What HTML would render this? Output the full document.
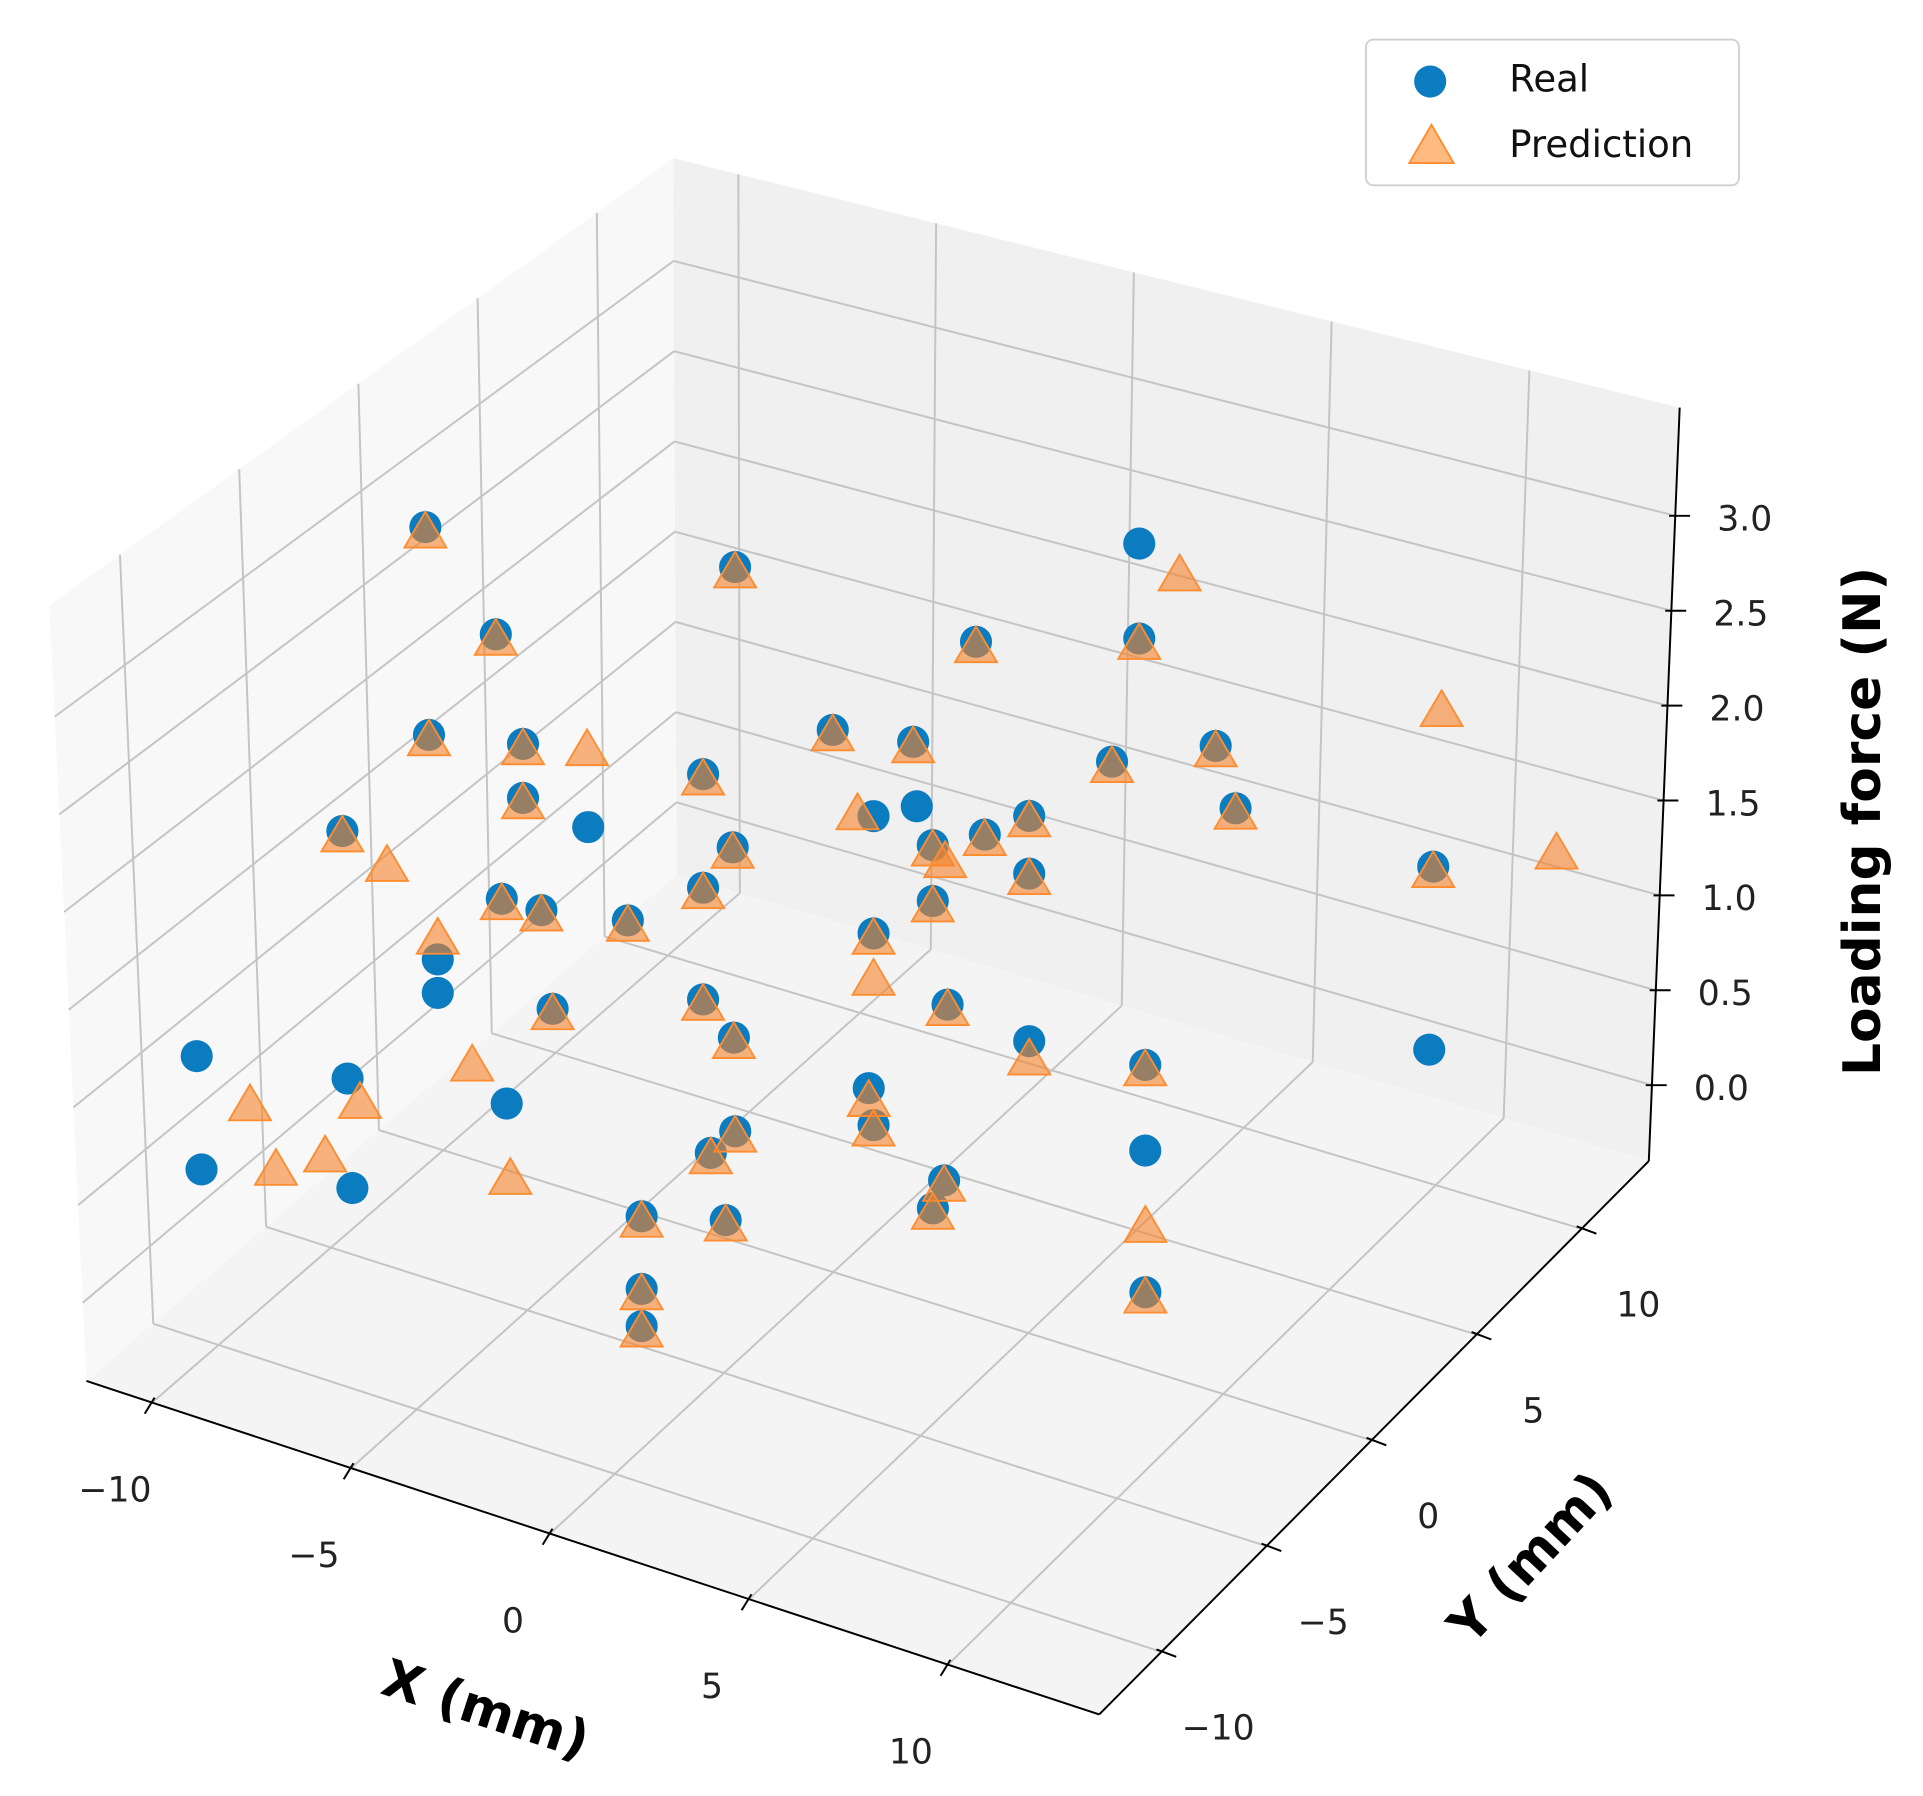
<!DOCTYPE html>
<html><head><meta charset="utf-8"><title>Loading force 3D scatter</title>
<style>
html,body{margin:0;padding:0;background:#fff;}
svg{display:block;font-family:"DejaVu Sans","Liberation Sans",sans-serif;}
</style></head>
<body>
<svg id="chart" xmlns="http://www.w3.org/2000/svg" width="1923" height="1796" viewBox="0 0 1557 1454" preserveAspectRatio="none">
<g id="panes">
  <polygon points="40,490 545,128 548,708 70,1118" fill="#f8f8f8"/>
  <polygon points="545,128 1360,330 1335,940 548,708" fill="#f0f0f0"/>
  <polygon points="70,1118 548,708 1335,940 890,1388" fill="#f4f4f4"/>
</g>
<g id="grid" stroke="#c4c4c4" stroke-width="1.6" fill="none"></g>
<g id="axes" stroke="#000" stroke-width="1.6" fill="none"></g>
<g id="ticklabels" font-size="28" fill="#222"></g>
<g id="real"></g>
<g id="pred"></g>
<text x="393" y="1398" font-size="42" font-weight="bold" text-anchor="middle" transform="rotate(18 393 1385)">X (mm)</text>
<text x="1240" y="1275" font-size="42" font-weight="bold" text-anchor="middle" transform="rotate(-47 1240 1262)">Y (mm)</text>
<text x="1508" y="679" font-size="42" font-weight="bold" text-anchor="middle" transform="rotate(-90 1508 665)">Loading force (N)</text>
<g>
  <rect x="1106" y="32" width="302" height="118" rx="6" fill="#fff" stroke="#d0d0d0" stroke-width="1.5"/>
  <circle cx="1158" cy="66" r="13" fill="#0b7cc0"/>
  <text x="1222" y="74" font-size="30" fill="#111">Real</text>
  <polygon points="1159,101 1141,132 1177,132" fill="#ff8c2e" fill-opacity="0.6" stroke="#ff8c2e" stroke-width="1.5"/>
  <text x="1222" y="127" font-size="30" fill="#111">Prediction</text>
</g>
</svg>
<script>
// ---- data ----
const realX = [-9.54,-1.80,8.30,-7.78,4.22,8.30,-9.45,-7.10,-7.10,-6.12,-2.60,0.64,2.65,7.62,10.21,7.96,12.90,12.80,-1.86,-2.60,-7.63,-6.64,-4.48,1.66,3.14,3.14,4.44,5.55,5.55,-6.36,-2.60,-1.83,3.51,5.55,8.45,1.54,1.66,0.95,0.34,6.17,5.89,0.26,2.36,0.26,0.26,11.20,8.45,2.74,1.66,-5.47,-9.23,-9.23,-9.76,-9.64,-5.87,-5.99,-4.76];
const realY = [0,0,0,0,0,0,0,0,0,-10,0,0,0,0,0,5,5,5,0,0,0,0,0,0,0,0,0,0,0,0,0,0,0,0,0,0,0,-5,-5,-5,-5,-8,-8,-8,-8,-5,0,0,0,0,0,0,-10,-10,-10,-10,-5];
const realZ = [2.89,3.23,4.08,2.44,3.26,3.57,1.78,1.90,1.61,2.69,2.06,2.53,2.61,2.86,3.13,2.04,2.08,1.09,1.72,1.45,1.03,1.04,1.14,1.51,2.09,1.79,2.24,2.42,2.11,0.53,0.85,0.70,1.26,1.21,1.29,0.67,0.48,0.99,0.83,1.10,0.93,0.84,0.97,0.45,0.25,0.86,0.83,2.27,2.14,1.57,0.59,0.41,1.22,0.62,0.79,1.37,0.73];

const predX = [-9.54,-1.80,-7.78,4.22,8.30,-9.45,-7.10,-7.10,-6.12,-2.60,0.64,2.65,7.62,10.21,7.96,12.90,-1.86,-2.60,-7.63,-6.64,-4.48,1.66,3.14,3.14,4.44,5.55,5.55,-6.36,-2.60,-1.83,3.51,5.55,8.45,1.54,1.66,0.95,0.34,6.17,5.89,0.26,2.36,0.26,0.26,11.20,9.31,13.11,15.98,-5.50,-10.50,-9.23,-8.37,-8.43,-7.78,-6.55,-5.68,-4.67,11.20,1.26,1.66,3.45];
const predY = [0,0,0,0,0,0,0,0,-10,0,0,0,0,0,5,5,0,0,0,0,0,0,0,0,0,0,0,0,0,0,0,0,0,0,0,-5,-5,-5,-5,-8,-8,-8,-8,-5,0,5,5,0,0,0,0,-10,-10,-10,-10,-5,-5,0,0,0];
const predZ = [2.86,3.20,2.41,3.23,3.54,1.75,1.87,1.58,2.66,2.03,2.50,2.58,2.83,3.10,2.01,2.05,1.69,1.42,1.00,1.01,1.11,1.48,2.06,1.76,2.21,2.39,2.08,0.50,0.82,0.67,1.23,1.11,1.26,0.60,0.45,0.96,0.80,1.07,0.90,0.81,0.94,0.42,0.22,0.83,3.98,2.93,2.37,1.98,1.00,0.70,0.08,1.05,0.75,0.91,1.26,0.33,1.21,2.12,1.26,2.02];

const xTicks = [-10,-5,0,5,10];
const yTicks = [-10,-5,0,5,10];
const zTicks = [0,0.5,1,1.5,2,2.5,3];
const xTickLabels = ["\u221210","\u22125","0","5","10"];
const yTickLabels = ["\u221210","\u22125","0","5","10"];
const zTickLabels = ["0.0","0.5","1.0","1.5","2.0","2.5","3.0"];

// ---- projection ----
const XMIN=-11.65, XMAX=13.8, YMIN=-12.96, YMAX=13.2, ZMIN=-0.4, ZMAX=3.57;
function proj(x,y,z){ return [653.5 + 32.4*x + 17.8*y, 965.3 + 10.8*x - 17.9*y - 150.7*z]; }
const A=[70,1118], B=[890,1388], C=[1335,940], D=[548,708], At=[40,490], Dt=[545,128], Ct=[1360,330];
function lerp(p,q,t){ return [p[0]+(q[0]-p[0])*t, p[1]+(q[1]-p[1])*t]; }
const fx = x => (x-XMIN)/(XMAX-XMIN), fy = y => (y-YMIN)/(YMAX-YMIN), fz = z => (z-ZMIN)/(ZMAX-ZMIN);
const NS="http://www.w3.org/2000/svg";
function line(g,p,q,name){
  const l=document.createElementNS(NS,'line');
  l.setAttribute('x1',p[0]);l.setAttribute('y1',p[1]);l.setAttribute('x2',q[0]);l.setAttribute('y2',q[1]);
  
  
  g.appendChild(l); return l;
}
function text(g,x,y,s,name,anchor){
  const t=document.createElementNS(NS,'text');
  t.setAttribute('x',x);t.setAttribute('y',y);t.setAttribute('text-anchor',anchor||'middle');t.textContent=s;
  
  
  g.appendChild(t);
}
const grid=document.getElementById('grid');
xTicks.forEach(x=>{ const t=fx(x);
  line(grid, lerp(A,B,t), lerp(D,C,t), 'floor-gridline-x');
  line(grid, lerp(D,C,t), lerp(Dt,Ct,t), 'wall-gridline-x'); });
yTicks.forEach(y=>{ const t=fy(y);
  line(grid, lerp(A,D,t), lerp(B,C,t), 'floor-gridline-y');
  line(grid, lerp(A,D,t), lerp(At,Dt,t), 'wall-gridline-y'); });
zTicks.forEach(z=>{ const t=fz(z);
  const l=lerp(A,At,t), m=lerp(D,Dt,t), r=lerp(C,Ct,t);
  line(grid, l, m, 'left-wall-gridline-z'); line(grid, m, r, 'back-wall-gridline-z'); });

const axes=document.getElementById('axes'), tl=document.getElementById('ticklabels');
line(axes,A,B,'x-axis-line'); line(axes,B,C,'y-axis-line'); line(axes,C,Ct,'z-axis-line');
xTicks.forEach((x,i)=>{ const p=lerp(A,B,fx(x));
  line(axes,[p[0]+2,p[1]-4],[p[0]-6,p[1]+9],'x-tick');
  text(tl,p[0]-30,p[1]+80,xTickLabels[i],'x-tick-label'); });
yTicks.forEach((y,i)=>{ const p=lerp(B,C,fy(y));
  line(axes,[p[0]-4,p[1]-2],[p[0]+12,p[1]+4],'y-tick');
  text(tl,p[0]+46,p[1]+71,yTickLabels[i],'y-tick-label'); });
zTicks.forEach((z,i)=>{ const p=lerp(C,Ct,fz(z));
  line(axes,[p[0]-5,p[1]],[p[0]+12,p[1]],'z-tick');
  text(tl,p[0]+34,p[1]+12,zTickLabels[i],'z-tick-label','start'); });

// ---- marks ----
const realG=document.getElementById('real'), predG=document.getElementById('pred');
realX.forEach((x,i)=>{ const [u,v]=proj(x,realY[i],realZ[i]);
  const c=document.createElementNS(NS,'circle');
  c.setAttribute('cx',u);c.setAttribute('cy',v);c.setAttribute('r',13);c.setAttribute('fill','#0b7cc0');
  
  
  realG.appendChild(c); });
predX.forEach((x,i)=>{ const [u,v]=proj(x,predY[i],predZ[i]);
  const p=document.createElementNS(NS,'polygon');
  p.setAttribute('points',`${u},${v-17} ${u-17},${v+12} ${u+17},${v+12}`);
  p.setAttribute('fill','#f5822a');p.setAttribute('fill-opacity','0.6');
  p.setAttribute('stroke','#ff8c2e');p.setAttribute('stroke-width','1.5');
  
  
  predG.appendChild(p); });
</script>
</body></html>
